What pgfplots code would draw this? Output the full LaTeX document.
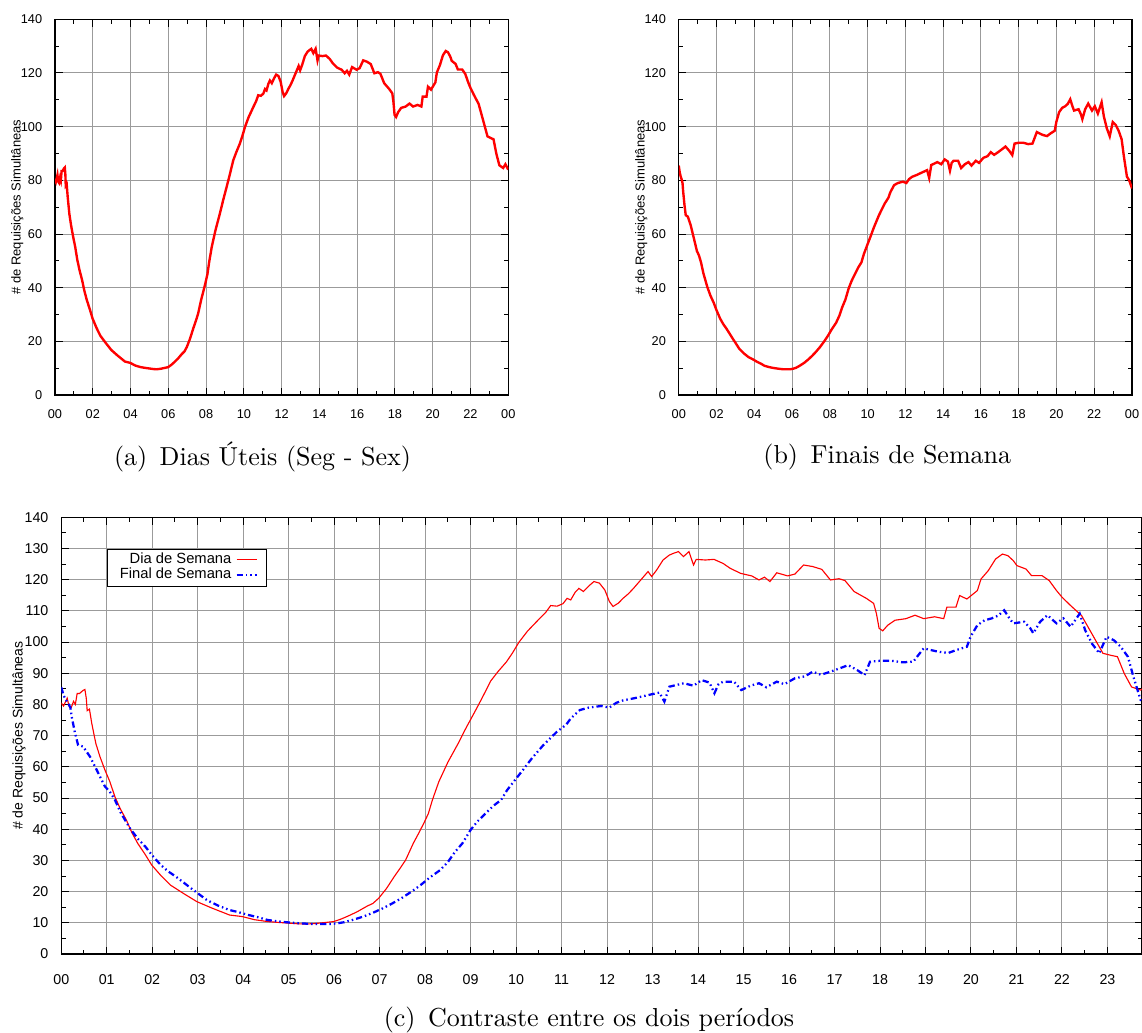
\documentclass[border=0pt]{standalone}
\usepackage{fontspec}
\usepackage{pgfplots}
\usepackage{pgfplotstable}
\pgfplotsset{compat=1.18}
\newfontfamily\arial{Liberation Sans}
\definecolor{gridgray}{RGB}{155,155,155}

\pgfplotstableread{
h v
0.00 80.5
0.05 79.5
0.10 81
0.13 82
0.17 79.5
0.22 79
0.27 81
0.31 80
0.35 83.5
0.40 83.5
0.44 84
0.48 84.5
0.52 84.8
0.55 82
0.57 78
0.62 78.5
0.67 74
0.76 67.5
0.85 63.3
0.96 59
1.07 55.2
1.18 50.4
1.30 46.5
1.43 43
1.55 39
1.68 35.5
1.85 31.8
1.99 28.5
2.20 25
2.40 22.1
2.70 19.3
2.98 16.8
3.30 14.8
3.70 12.5
3.98 12
4.25 11
4.54 10.4
4.80 10.1
5.00 9.9
5.20 9.7
5.38 9.6
5.60 9.8
5.80 10.1
5.99 10.4
6.15 11.2
6.31 12.2
6.50 13.5
6.73 15.4
6.85 16.2
6.98 17.9
7.15 21
7.32 24.8
7.45 27.5
7.57 30.1
7.74 35.5
7.85 38.5
7.97 41.9
8.07 45
8.16 49.4
8.30 55.2
8.50 61.5
8.73 67.6
8.90 72.5
9.09 77.6
9.25 82
9.44 87.5
9.60 90.5
9.79 93.7
9.92 96.5
10.06 99.9
10.25 103.5
10.50 107.3
10.65 109.5
10.76 111.7
10.90 111.5
11.03 112.3
11.12 114
11.20 113.5
11.30 116
11.38 117.2
11.48 116.2
11.60 118
11.71 119.4
11.83 118.9
11.95 116.7
12.05 113
12.13 111.4
12.25 112.5
12.35 114
12.47 115.5
12.58 117.2
12.74 119.9
12.90 122.6
12.98 121
13.09 123.1
13.23 126.3
13.37 127.9
13.47 128.5
13.57 129
13.68 127.4
13.80 129
13.90 124.7
13.96 126.5
14.16 126.3
14.35 126.5
14.55 125.2
14.71 123.6
14.94 122
15.18 121.2
15.34 119.9
15.46 120.8
15.58 119.4
15.73 122.2
15.97 121.2
16.13 121.8
16.32 124.7
16.52 124.2
16.72 123.3
16.91 119.9
17.10 120.3
17.23 119.7
17.43 116.2
17.70 114
17.86 112.4
17.92 109.2
17.98 104.4
18.06 103.6
18.17 105.4
18.33 107
18.57 107.5
18.77 108.6
18.96 107.5
19.20 108.1
19.40 107.5
19.47 111.2
19.67 111.2
19.75 114.9
19.91 113.8
20.14 116.5
20.22 120.2
20.38 122.9
20.54 126.6
20.69 128.2
20.81 127.7
20.93 126.1
21.01 124.5
21.21 123.4
21.33 121.3
21.56 121.3
21.72 119.7
21.88 116.5
22.00 114.4
22.19 111.7
22.43 108.5
22.66 102.6
22.90 96.4
23.06 95.8
23.22 95.3
23.37 89.9
23.53 85.6
23.73 84.6
23.85 86
24.00 84
}\weekday

\pgfplotstableread{
h v
0.00 85.5
0.05 83
0.10 81.5
0.15 80.4
0.20 79
0.23 76.1
0.30 71
0.37 67
0.48 66.5
0.63 63.3
0.78 59
0.96 53.7
1.07 52
1.18 49.4
1.30 45.5
1.51 40.3
1.68 37
1.85 34.4
2.00 31.6
2.19 28.5
2.35 26.5
2.52 24.8
2.70 22.8
2.86 21
3.00 19.5
3.20 17.3
3.45 15.5
3.70 14.1
3.90 13.4
4.12 12.5
4.35 11.7
4.54 10.9
4.80 10.4
5.05 10.05
5.30 9.8
5.55 9.6
5.89 9.6
6.05 9.8
6.22 10.2
6.40 10.9
6.64 12
6.85 13.2
7.06 14.6
7.25 16
7.48 17.9
7.70 20
7.90 22.1
8.10 24.5
8.33 26.9
8.50 29.5
8.66 32.8
8.82 35.5
9.00 39.8
9.15 42.5
9.33 45.1
9.50 47.5
9.67 49.4
9.80 52.5
9.96 55.5
10.15 59
10.34 62.6
10.60 67
10.90 71.3
11.10 73.5
11.20 75.5
11.40 78.2
11.60 79
11.87 79.5
12.05 79
12.20 80.5
12.35 81.3
12.60 82
12.90 83
13.15 83.8
13.26 80.9
13.37 85.7
13.69 86.8
13.90 86
14.08 87.8
14.25 87
14.36 83.6
14.45 86.5
14.55 87.3
14.79 87.3
14.95 84.6
15.15 86
15.34 86.8
15.50 85.5
15.73 87.3
15.90 86.5
16.13 88.4
16.35 89
16.52 90.5
16.70 89.5
16.91 90.5
17.10 91.5
17.30 92.6
17.50 91
17.66 89.4
17.78 93.7
18.00 94
18.25 94
18.50 93.5
18.73 93.7
18.96 98
19.10 97.5
19.28 96.9
19.50 96.5
19.67 97.4
19.91 98.5
19.99 101.7
20.14 105.4
20.30 107
20.46 107.6
20.60 108.5
20.73 110.2
20.85 107.5
20.93 106
21.17 106.5
21.30 104.5
21.37 102.8
21.52 106.5
21.68 108.6
21.88 106
22.03 107.6
22.19 104.9
22.39 109.1
22.51 103.8
22.66 99.5
22.82 96.4
22.98 101.7
23.14 100.6
23.29 98.5
23.45 95.3
23.57 88.9
23.73 81.4
23.85 80
24.00 77
}\weekend

\pgfplotsset{
  gstyle/.style={
    scale only axis,
    axis line style={black, line width=0.5pt},
    grid=major,
    major grid style={line width=0.4pt, color=gridgray},
    tick style={black, line width=0.4pt},
    major tick length=3pt, minor tick length=1.7pt,
    tick align=inside,
    tick pos=both,
    /pgf/number format/assume math mode=true,
    xticklabel style={yshift=-2.2pt},
    yticklabel style={xshift=-1.6pt},
  },
  smallstyle/.style={
    gstyle,
    width=181.3pt, height=150.3pt,
    xmin=0, xmax=24, ymin=0, ymax=140,
    xtick={0,2,...,24},
    xticklabels={00,02,04,06,08,10,12,14,16,18,20,22,00},
    ytick={0,20,...,140},
    minor x tick num=1, minor y tick num=1,
    ticklabel style={font=\arial\fontsize{5.1}{6}\selectfont},
    ylabel={\arial\fontsize{5.2}{6}\selectfont \# de Requisições Simultâneas},
    every axis y label/.style={at={(axis description cs:-0.083,0.5)}, rotate=90, anchor=center},
  },
}

\begin{document}
\begin{tikzpicture}
\path[use as bounding box] (0pt,0pt) rectangle (456.8pt,-412.8pt);

% (a)
\begin{axis}[smallstyle, at={(22pt,-7.72pt)}, anchor=north west]
\addplot[red, line width=0.95pt] table[x=h,y=v] {\weekday};
\end{axis}
\node[font=\fontsize{10.4}{12}\selectfont] at (105pt,-182.8pt) {(a)\hspace{5pt}Dias Úteis (Seg - Sex)};

% (b)
\begin{axis}[smallstyle, at={(271.5pt,-7.72pt)}, anchor=north west]
\addplot[red, line width=0.95pt] table[x=h,y=v] {\weekend};
\end{axis}
\node[font=\fontsize{10.4}{12}\selectfont] at (354.9pt,-182.8pt) {(b)\hspace{5pt}Finais de Semana};

% (c)
\begin{axis}[gstyle, at={(24.5pt,-206.9pt)}, anchor=north west,
  width=432.3pt, height=174.7pt,
  xmin=0, xmax=23.76, ymin=0, ymax=140,
  xtick={0,...,23},
  xticklabels={00,01,02,03,04,05,06,07,08,09,10,11,12,13,14,15,16,17,18,19,20,21,22,23},
  ytick={0,10,...,140},
  minor x tick num=1, minor y tick num=1,
  ticklabel style={font=\arial\fontsize{5.7}{6.5}\selectfont},
  xticklabel style={yshift=-2.6pt},
  ylabel={\arial\fontsize{5.6}{6.5}\selectfont \# de Requisições Simultâneas},
  every axis y label/.style={at={(axis description cs:-0.039,0.5)}, rotate=90, anchor=center},
  legend style={at={(axis description cs:0.042,0.928)}, anchor=north west,
    draw=black, fill=white,
    font=\arial\fontsize{5.9}{6.5}\selectfont, inner xsep=3.5pt, inner ysep=0.8pt,
    row sep=-0.8pt, nodes={inner ysep=0.6pt, inner xsep=1.6pt}},
  legend cell align=right,
  legend plot pos=right,
  legend image code/.code={\draw[#1] (0pt,0pt) -- (8pt,0pt);},
]
\addplot[red, line width=0.45pt] table[x=h,y=v] {\weekday};
\addlegendentry{Dia de Semana}
\addplot[blue, line width=0.9pt, dash pattern=on 2.5pt off 1.2pt on 0.6pt off 1.2pt on 0.6pt off 1.2pt] table[x=h,y=v] {\weekend};
\addlegendentry{Final de Semana}
\end{axis}
\node[font=\fontsize{10.4}{12}\selectfont] at (235.6pt,-408pt) {(c)\hspace{5pt}Contraste entre os dois períodos};
\end{tikzpicture}
\end{document}
